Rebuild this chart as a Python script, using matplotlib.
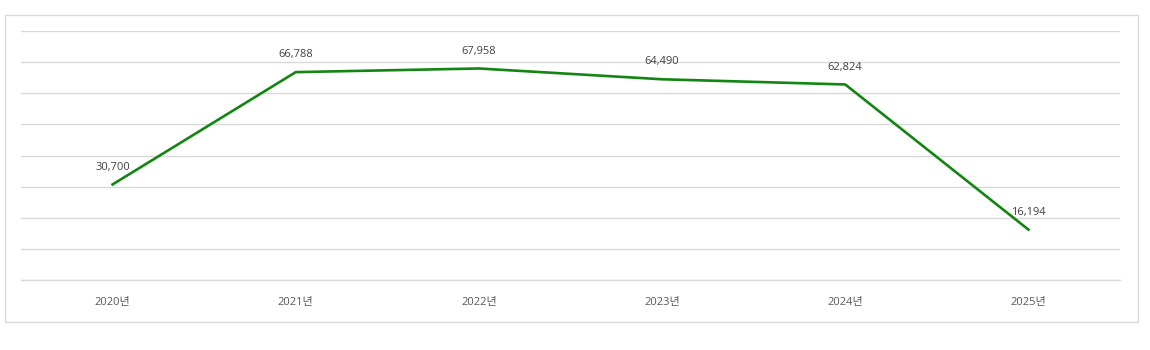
import matplotlib
matplotlib.use("Agg")
import matplotlib.pyplot as plt
from matplotlib.patches import Rectangle

plt.rcParams['font.family'] = ['Open Sans', 'Noto Sans CJK KR', 'DejaVu Sans']

years = ["2020년", "2021년", "2022년", "2023년", "2024년", "2025년"]
values = [30700, 66788, 67958, 64490, 62824, 16194]

fig = plt.figure(figsize=(11.5, 3.5), dpi=100)
ax = fig.add_axes([21 / 1150, 1 - 280 / 350, (1120 - 21) / 1150, (280 - 31) / 350])

x = list(range(len(years)))
ax.plot(x, values, color="#128512", linewidth=1.9, solid_joinstyle="round", zorder=3)

for xi, v in zip(x, values):
    ax.annotate(f"{v:,}", (xi, v), xytext=(0, 8.5), textcoords="offset points",
                ha="center", va="bottom", fontsize=8, color="#404040")

ax.set_xlim(-0.5, len(years) - 0.5)
ax.set_ylim(0, 80000)
ax.set_yticks(range(0, 80001, 10000))
ax.yaxis.grid(True, color="#d9d9d9", linewidth=1)
ax.set_axisbelow(True)
ax.set_yticklabels([])
ax.tick_params(axis="y", length=0)
ax.set_xticks(x)
ax.set_xticklabels(years, fontsize=8, color="#595959")
ax.tick_params(axis="x", length=0, pad=12.5)
for side in ("top", "right", "left"):
    ax.spines[side].set_visible(False)
ax.spines["bottom"].set_color("#d9d9d9")
ax.spines["bottom"].set_linewidth(1)

# outer frame around the chart area
fig.patches.append(Rectangle((5 / 1150, 1 - 322 / 350), (1138 - 5) / 1150, (322 - 15) / 350,
                             transform=fig.transFigure, fill=False,
                             edgecolor="#d9d9d9", linewidth=1))

fig.savefig("out.png", dpi=100)
